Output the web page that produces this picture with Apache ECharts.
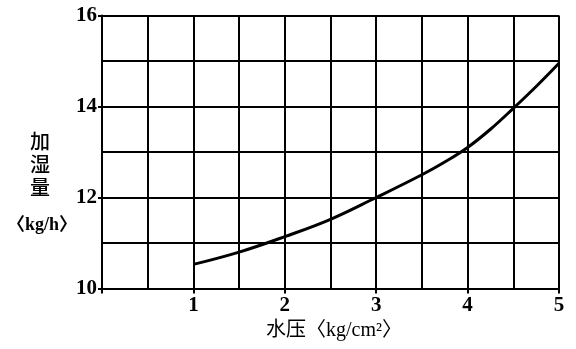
<!DOCTYPE html>
<html>
<head>
<meta charset="utf-8">
<script src="https://cdn.jsdelivr.net/npm/echarts@6/dist/echarts.min.js"></script>
<style>
  html, body { margin: 0; padding: 0; background: #fff; }
  #chart { width: 576px; height: 349px; }
</style>
</head>
<body>
<div id="chart"></div>
<script>
// Water pressure (kg/cm²) and humidifying amount (kg/h)
const pressure = [1, 1.5, 2, 2.5, 3, 3.5, 3.75, 4, 4.25, 4.5, 4.75, 5];
const amount = [10.53, 10.8, 11.14, 11.52, 12.0, 12.5, 12.78, 13.1, 13.5, 13.96, 14.44, 14.95];
const xTicks = [1, 2, 3, 4, 5];
const yTicks = [10, 12, 14, 16];

const serif = '"Liberation Serif", "DejaVu Serif", "Noto Sans CJK SC", serif';
const cjk = '"Liberation Serif", "Noto Sans CJK SC", serif';

const chart = echarts.init(document.getElementById('chart'), null, { renderer: 'canvas' });
chart.setOption({
  backgroundColor: '#fff',
  animation: false,
  grid: { left: 102, right: 17, top: 15.5, bottom: 60.5 },
  xAxis: {
    type: 'value', min: 0, max: 5, interval: 1,
    axisLine: { show: true, lineStyle: { color: '#000', width: 2 } },
    axisTick: { show: true, length: 5, lineStyle: { color: '#000', width: 2 } },
    axisLabel: {
      margin: 7, color: '#000', fontSize: 21, fontWeight: 'bold', fontFamily: serif,
      formatter: v => (xTicks.indexOf(v) >= 0 ? String(v) : '')
    },
    splitLine: { show: true, lineStyle: { color: '#000', width: 2 } },
    minorTick: { show: false, splitNumber: 2 },
    minorSplitLine: { show: true, lineStyle: { color: '#000', width: 2 } }
  },
  yAxis: {
    type: 'value', min: 10, max: 16, interval: 2,
    axisLine: { show: true, lineStyle: { color: '#000', width: 2 } },
    axisTick: { show: true, length: 4, lineStyle: { color: '#000', width: 2 } },
    axisLabel: {
      margin: 5, color: '#000', fontSize: 21, fontWeight: 'bold', fontFamily: serif,
      formatter: v => (yTicks.indexOf(v) >= 0 ? String(v) : '')
    },
    splitLine: { show: true, lineStyle: { color: '#000', width: 2 } },
    minorTick: { show: false, splitNumber: 2 },
    minorSplitLine: { show: true, lineStyle: { color: '#000', width: 2 } }
  },
  graphic: [
    {
      type: 'text', left: 30, top: 132,
      style: { text: '加\n湿\n量', font: '500 20px ' + cjk, fill: '#000', lineHeight: 23, align: 'center' }
    },
    {
      type: 'text', left: 7, top: 216,
      style: { text: '〈kg/h〉', font: 'bold 18px ' + cjk, fill: '#000' }
    },
    {
      type: 'text', left: 266, top: 321,
      style: { text: '水压〈kg/cm²〉', font: '20px ' + cjk, fill: '#000' }
    }
  ],
  series: [{
    type: 'line',
    data: pressure.map((p, i) => [p, amount[i]]),
    smooth: 0.4,
    symbol: 'none',
    lineStyle: { color: '#000', width: 3 }
  }]
});
</script>
</body>
</html>
